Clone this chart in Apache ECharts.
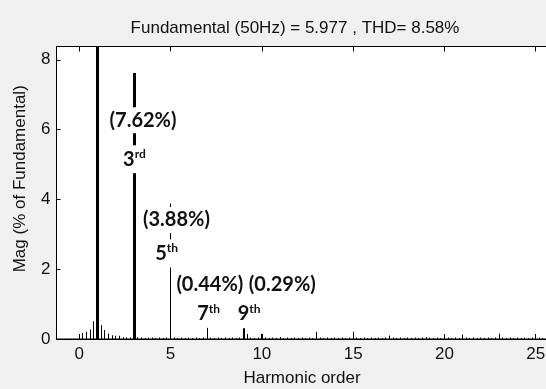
<!DOCTYPE html>
<html><head><meta charset="utf-8">
<script src="https://cdn.jsdelivr.net/npm/echarts@6/dist/echarts.min.js"></script>
<style>html,body{margin:0;padding:0;background:#f0f0f0;overflow:hidden}#c{width:546px;height:389px}</style>
</head><body><div id="c"></div>
<script>
// ---- data ----
const titleText = 'Fundamental (50Hz) = 5.977 , THD= 8.58%';
const xAxisName = 'Harmonic order';
const yAxisName = 'Mag (% of Fundamental)';
const xTickValues = [0, 5, 10, 15, 20, 25];
const yTickValues = [0, 2, 4, 6, 8];
const binStep = 0.2; // spectrum resolution in harmonic orders (10 Hz)
const magnitudes = [
  0.14, 0.17, 0.21, 0.27, 0.51, 100, 0.40, 0.26, 0.16, 0.11,
  0.09, 0.09, 0.05, 0.04, 0.04, 7.62, 0.05, 0.04, 0.03, 0.04,
  0.04, 0.03, 0.04, 0.03, 0.04, 3.88, 0.04, 0.03, 0.04, 0.03,
  0.04, 0.03, 0.04, 0.03, 0.04, 0.44, 0.04, 0.03, 0.04, 0.03,
  0.04, 0.03, 0.04, 0.03, 0.04, 0.31, 0.14, 0.04, 0.03, 0.04,
  0.15, 0.04, 0.03, 0.04, 0.03, 0.06, 0.03, 0.04, 0.03, 0.04,
  0.03, 0.04, 0.03, 0.04, 0.03, 0.21, 0.04, 0.03, 0.04, 0.03,
  0.04, 0.03, 0.04, 0.03, 0.04, 0.21, 0.04, 0.03, 0.04, 0.03,
  0.04, 0.03, 0.04, 0.03, 0.04, 0.10, 0.04, 0.03, 0.04, 0.03,
  0.04, 0.03, 0.04, 0.03, 0.04, 0.06, 0.04, 0.03, 0.04, 0.03,
  0.12, 0.04, 0.03, 0.04, 0.03, 0.12, 0.04, 0.03, 0.04, 0.03,
  0.04, 0.03, 0.04, 0.03, 0.04, 0.15, 0.04, 0.03, 0.04, 0.03,
  0.04, 0.03, 0.04, 0.03, 0.04, 0.12, 0.04, 0.03, 0.04, 0.03,
  0.04, 0.03
];
const harmonicOrders = magnitudes.map((_, i) => +(i * binStep).toFixed(1));
// annotation texts with anchor (harmonic order, magnitude)
const annotationTexts = ['(7.62%)', '{b|3}{s|rd}', '(3.88%)', '{b|5}{s|th}', '(0.44%)', '{b|7}{s|th}', '(0.29%)', '{b|9}{s|th}'];
const annotationX = [3.49, 3.02, 5.32, 4.78, 7.15, 7.08, 11.12, 9.3];
const annotationY = [6.27, 5.15, 3.41, 2.45, 1.55, 0.72, 1.55, 0.72];

// ---- styles ----
const lineWidthByOrder = { '1': 3, '3': 3, '9': 2 };
const txt = '#111';
const baseFont = 'Liberation Sans';

const chart = echarts.init(document.getElementById('c'), null, { renderer: 'canvas' });
const xMin = -1.25, xMax = 26.25;
chart.setOption({
  animation: false,
  backgroundColor: '#f0f0f0',
  title: {
    text: titleText, left: 290, top: 15, textAlign: 'center',
    textStyle: { fontFamily: baseFont, fontSize: 17, fontWeight: 'normal', color: txt }
  },
  grid: { left: 56.5, top: 46.5, width: 502, bottom: 50, containLabel: false, outerBoundsMode: 'none', show: true, backgroundColor: '#fff', borderColor: '#000', borderWidth: 1 },
  xAxis: [{
    type: 'value', min: xMin, max: xMax, position: 'bottom',
    name: xAxisName, nameLocation: 'middle', nameGap: 31,
    nameTextStyle: { fontFamily: baseFont, fontSize: 17, color: txt, padding: [0, 11, 0, 0] },
    axisLine: { show: true, onZero: false, lineStyle: { color: '#000', width: 1 } },
    axisTick: { show: true, inside: true, length: 5, customValues: xTickValues, lineStyle: { color: '#000' } },
    axisLabel: { show: true, customValues: xTickValues, margin: 7, fontFamily: baseFont, fontSize: 17, color: txt },
    splitLine: { show: false }
  }, {
    type: 'value', min: xMin, max: xMax, position: 'top',
    axisLine: { show: true, onZero: false, lineStyle: { color: '#000', width: 1 } },
    axisTick: { show: true, inside: true, length: 5, customValues: xTickValues, lineStyle: { color: '#000' } },
    axisLabel: { show: false }, splitLine: { show: false }
  }],
  yAxis: {
    type: 'value', min: 0, max: 8.38,
    name: yAxisName, nameLocation: 'middle', nameGap: 28,
    nameTextStyle: { fontFamily: baseFont, fontSize: 17, color: txt, padding: [0, 0, 0, 28] },
    axisLine: { show: true, onZero: false, lineStyle: { color: '#000', width: 1 } },
    axisTick: { show: true, inside: true, length: 4, customValues: yTickValues, lineStyle: { color: '#000' } },
    axisLabel: { show: true, customValues: yTickValues, margin: 6, fontFamily: baseFont, fontSize: 17, color: txt },
    splitLine: { show: false }
  },
  series: [{
    type: 'custom',
    xAxisIndex: 0,
    clip: true,
    data: harmonicOrders.map((h, i) => [h, magnitudes[i]]),
    renderItem: function (params, api) {
      const h = api.value(0), v = api.value(1);
      const top = api.coord([h, v]);
      const base = api.coord([h, 0]);
      const w = lineWidthByOrder[String(h)] || 1;
      const yTop = Math.max(top[1], params.coordSys.y);
      const x0 = Math.round(base[0] - w / 2);
      return { type: 'rect', shape: { x: x0, y: yTop, width: w, height: base[1] - yTop }, style: { fill: '#000' } };
    },
    z: 2
  }, {
    type: 'scatter',
    symbolSize: 0,
    z: 10,
    itemStyle: { opacity: 1 },
    data: annotationTexts.map((t, i) => [annotationX[i], annotationY[i], t]),
    label: {
      show: true, position: 'inside',
      formatter: p => p.data[2],
      fontFamily: 'Lato', fontWeight: 'bold', fontSize: 20, color: txt,
      backgroundColor: '#fff', padding: [3, 1, 3, 1],
      rich: {
        b: { fontFamily: 'Lato', fontWeight: 'bold', fontSize: 20, color: txt, lineHeight: 22 },
        s: { fontFamily: 'Lato', fontWeight: 'bold', fontSize: 12, color: txt, verticalAlign: 'top', lineHeight: 22, padding: [0, 0, 8, 0] }
      }
    },
    labelLayout: { hideOverlap: false }
  }]
});
</script></body></html>
